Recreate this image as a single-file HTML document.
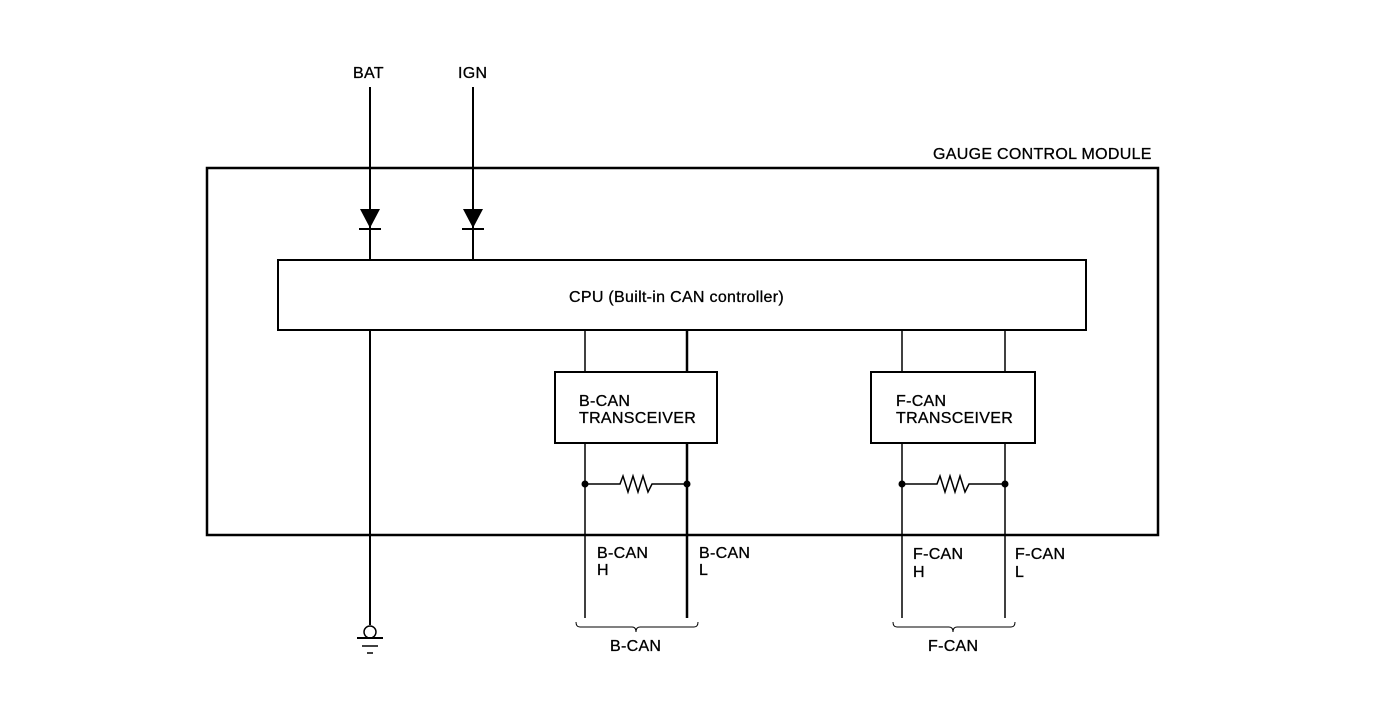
<!DOCTYPE html>
<html><head><meta charset="utf-8"><style>
html,body{margin:0;padding:0;background:#fff}
svg text{font-family:"Liberation Sans",sans-serif;font-size:16px;letter-spacing:0.3px;fill:#000;stroke:#000;stroke-width:0.3px}
</style></head><body>
<svg width="1392" height="714" viewBox="0 0 1392 714" xmlns="http://www.w3.org/2000/svg">
<g fill="none" stroke="#000">
<rect x="207" y="168" width="951" height="367" stroke-width="2.5"/>
<rect x="278" y="260" width="808" height="70" stroke-width="2"/>
<rect x="555" y="372" width="162" height="71" stroke-width="2"/>
<rect x="871" y="372" width="164" height="71" stroke-width="2"/>
<line x1="370" y1="87" x2="370" y2="260" stroke-width="2"/>
<line x1="473" y1="87" x2="473" y2="260" stroke-width="2"/>
<line x1="359" y1="229" x2="381" y2="229" stroke-width="2"/>
<line x1="462" y1="229" x2="484" y2="229" stroke-width="2"/>
<line x1="370" y1="330" x2="370" y2="625" stroke-width="2"/>
<line x1="585" y1="330" x2="585" y2="372" stroke-width="1.5"/>
<line x1="687" y1="330" x2="687" y2="372" stroke-width="2.5"/>
<line x1="902" y1="330" x2="902" y2="372" stroke-width="1.5"/>
<line x1="1005" y1="330" x2="1005" y2="372" stroke-width="1.5"/>
<line x1="585" y1="443" x2="585" y2="618" stroke-width="1.5"/>
<line x1="687" y1="443" x2="687" y2="618" stroke-width="2.5"/>
<line x1="902" y1="443" x2="902" y2="618" stroke-width="1.5"/>
<line x1="1005" y1="443" x2="1005" y2="618" stroke-width="1.5"/>
<polyline points="585,484 620,484 623,476 628,492 633,476 638,492 643,476 648,492 652,484 687,484" stroke-width="1.5"/>
<polyline points="902,484 937,484 940,476 945,492 950,476 955,492 960,476 965,492 969,484 1005,484" stroke-width="1.5"/>
<path d="M576,622 q0,5 4,5 h52 q4,0 4,5 q0,-5 4,-5 h54 q4,0 4,-5" stroke-width="1"/>
<path d="M893,622 q0,5 4,5 h52 q4,0 4,5 q0,-5 4,-5 h54 q4,0 4,-5" stroke-width="1"/>
<circle cx="370" cy="632" r="6" stroke-width="1.5"/>
<line x1="357" y1="638" x2="383" y2="638" stroke-width="2"/>
<line x1="362" y1="646" x2="378" y2="646" stroke-width="1.5"/>
<line x1="367" y1="653" x2="373" y2="653" stroke-width="1.5"/>
</g>
<g fill="#000">
<polygon points="360,209 380,209 370,228"/>
<polygon points="463,209 483,209 473,228"/>
<circle cx="585" cy="484" r="3.5"/><circle cx="687" cy="484" r="3.5"/>
<circle cx="902" cy="484" r="3.5"/><circle cx="1005" cy="484" r="3.5"/>
</g>
<text x="353" y="78">BAT</text>
<text x="458" y="78">IGN</text>
<text x="933" y="159">GAUGE CONTROL MODULE</text>
<text x="569" y="302">CPU (Built-in CAN controller)</text>
<text x="579" y="406">B-CAN</text><text x="579" y="423">TRANSCEIVER</text>
<text x="896" y="406">F-CAN</text><text x="896" y="423">TRANSCEIVER</text>
<text x="597" y="558">B-CAN</text><text x="597" y="575">H</text>
<text x="699" y="558">B-CAN</text><text x="699" y="575">L</text>
<text x="913" y="559">F-CAN</text><text x="913" y="577">H</text>
<text x="1015" y="559">F-CAN</text><text x="1015" y="577">L</text>
<text x="610" y="651">B-CAN</text>
<text x="928" y="651">F-CAN</text>
</svg>
</body></html>
